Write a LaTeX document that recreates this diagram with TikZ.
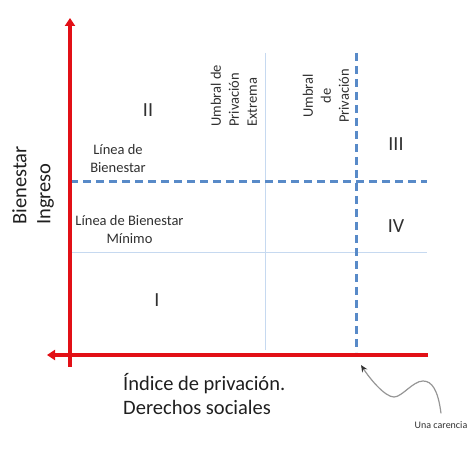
\documentclass[tikz,border=0pt]{standalone}
\usepackage{fontspec}
\setmainfont{Carlito}
\usetikzlibrary{arrows.meta}
\definecolor{axisred}{RGB}{226,16,22}
\definecolor{dashblue}{RGB}{88,138,200}
\definecolor{thinblue}{RGB}{198,217,240}
\definecolor{labgray}{RGB}{48,48,48}
\definecolor{curvegray}{RGB}{150,150,150}
\begin{document}
\begin{tikzpicture}[x=1pt,y=1pt,
  axis/.style={draw=axisred,line width=3.8pt},
  thresh/.style={draw=dashblue,line width=3pt,dash pattern=on 8pt off 5pt},
  minline/.style={draw=thinblue,line width=1pt},
  roman/.style={text=labgray,font=\fontsize{20}{24}\selectfont,inner sep=0pt},
  inlab/.style={text=labgray,font=\fontsize{14.5}{18}\selectfont,inner sep=0pt},
  axlab/.style={text=black!88,font=\fontsize{20.5}{24}\selectfont,inner sep=0pt},
  smalllab/.style={text=labgray,font=\fontsize{10}{12}\selectfont,inner sep=1pt},
]
\useasboundingbox (0,0) rectangle (473,465);
% reference points
\coordinate (yb) at (70,98);
\coordinate (yt) at (70,447);
\coordinate (xr) at (428,110);
\coordinate (xl) at (47,110);
\coordinate (wl) at (70,283);
\coordinate (wr) at (427,283);
\coordinate (ml) at (70,212);
\coordinate (mr) at (427,212);
\coordinate (ut) at (356,412);
\coordinate (ub) at (356,113);
\coordinate (et) at (265,412);
\coordinate (eb) at (265,115);
\coordinate (carpt) at (361,100);
% thin lines
\draw[minline] (ml) -- (mr);
\draw[minline] (et) -- (eb);
% dashed thresholds
\draw[thresh] (wl) -- (wr);
\draw[thresh] (ut) -- (ub);
% axes
\draw[axis,-{Triangle[width=10pt,length=8pt]}] (yb) -- (yt);
\draw[axis,-{Triangle[width=10pt,length=8pt]}] (xr) -- (xl);
% quadrant labels
\node[roman] (q2) at (148,355) {II};
\node[roman] (q3) at (396,321) {III};
\node[roman] (q4) at (396,239) {IV};
\node[roman] (q1) at (157,165) {I};
% inner labels
\node[inlab,align=center] (lb) at (118,306) {Línea de\\Bienestar};
\node[inlab,align=center] (lbm) at (129.5,235.5) {Línea de Bienestar\\Mínimo};
\node[inlab,align=left,rotate=90,anchor=west] (upe) at (234,338) {Umbral de\\Privación\\Extrema};
\node[inlab,align=center,rotate=90] (up) at (326,369) {Umbral\\de\\Privación};
% axis labels
\node[axlab,align=left,rotate=90,anchor=west] (ing) at (33,240) {Bienestar\\Ingreso};
\node[axlab,align=left,anchor=north west] (idx) at (123,92) {Índice de privación.\\Derechos sociales};
% annotation
\node[smalllab] (car) at (441,40) {Una carencia};
\draw[curvegray,line width=1.2pt,-{Stealth[length=7pt,width=6pt,color=black!80]}]
  ([yshift=7pt]car.north) .. controls (438,75) and (432,84) .. (423,84)
  .. controls (413,84) and (402,68) .. (394,68)
  .. controls (385,68) and (370,86) .. (carpt);
\end{tikzpicture}
\end{document}
